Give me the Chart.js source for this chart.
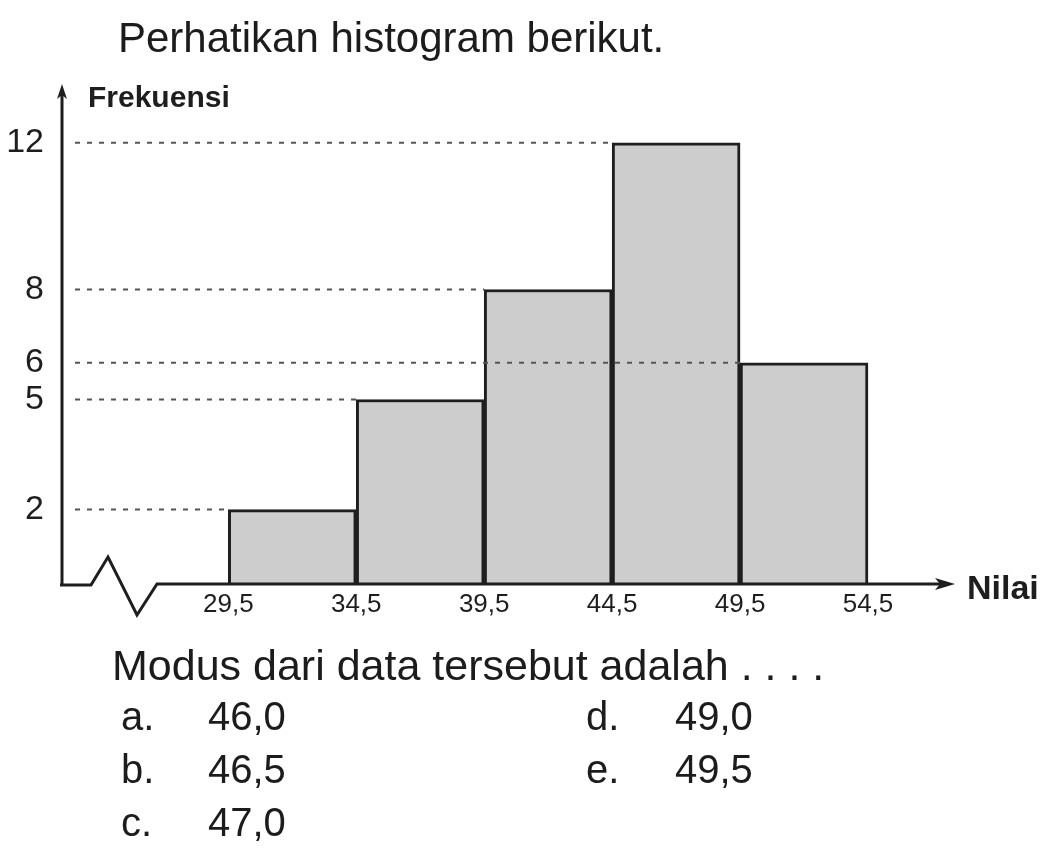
<!DOCTYPE html>
<html>
<head>
<meta charset="utf-8">
<script src="https://cdn.jsdelivr.net/npm/chart.js@4.4.1/dist/chart.umd.min.js"></script>
<style>
  html, body { margin: 0; padding: 0; background: #fff; }
  #wrap { position: relative; width: 1064px; height: 865px; overflow: hidden; }
  canvas { position: absolute; left: 0; top: 0; }
  .t { position: absolute; font-family: "Liberation Sans", Arial, sans-serif; font-size: 40px; line-height: 40px; color: #1c1c1c; white-space: nowrap; }
</style>
</head>
<body>
<div id="wrap">
  <canvas id="c" width="1064" height="865"></canvas>
  <div class="t" style="left:118px; top:17px; font-size:42px; line-height:42px;">Perhatikan histogram berikut.</div>
  <div class="t" style="left:112px; top:644px; font-size:43px; line-height:43px;">Modus dari data tersebut adalah . . . .</div>
  <div class="t" style="left:121px; top:696px;">a.</div>
  <div class="t" style="left:208px; top:696px;">46,0</div>
  <div class="t" style="left:121px; top:749px;">b.</div>
  <div class="t" style="left:208px; top:749px;">46,5</div>
  <div class="t" style="left:121px; top:802px;">c.</div>
  <div class="t" style="left:208px; top:802px;">47,0</div>
  <div class="t" style="left:586px; top:696px;">d.</div>
  <div class="t" style="left:675px; top:696px;">49,0</div>
  <div class="t" style="left:586px; top:749px;">e.</div>
  <div class="t" style="left:675px; top:749px;">49,5</div>
</div>
<script>
// ---- data ----
const classBoundaries = [29.5, 34.5, 39.5, 44.5, 49.5, 54.5];
const boundaryLabels = ['29,5', '34,5', '39,5', '44,5', '49,5', '54,5'];
const frequencies = [2, 5, 8, 12, 6];
const yTickValues = [2, 5, 6, 8, 12];
const yAxisTitle = 'Frekuensi';
const xAxisTitle = 'Nilai';

const barData = frequencies.map((f, i) => ({
  x: (classBoundaries[i] + classBoundaries[i + 1]) / 2,
  y: f
}));

const INK = '#1e1e1e';

const decor = {
  id: 'decor',
  afterDatasetsDraw(chart) {
    const ctx = chart.ctx;
    const xs = chart.scales.x, ys = chart.scales.y;
    const area = chart.chartArea;
    const y0 = ys.getPixelForValue(0);
    const axisX = area.left;
    ctx.save();
    // dashed reference lines from axis to the left edge of each bar with that height
    ctx.strokeStyle = '#555';
    ctx.lineWidth = 2;
    ctx.setLineDash([5, 7]);
    yTickValues.forEach(v => {
      const idx = frequencies.indexOf(v);
      const endX = xs.getPixelForValue(classBoundaries[idx]);
      const py = ys.getPixelForValue(v);
      ctx.beginPath();
      ctx.moveTo(axisX + 13, py);
      ctx.lineTo(endX, py);
      ctx.stroke();
    });
    ctx.setLineDash([]);
    // y axis line + arrow
    ctx.strokeStyle = INK;
    ctx.fillStyle = INK;
    ctx.lineWidth = 3;
    ctx.beginPath();
    ctx.moveTo(axisX, y0 + 1);
    ctx.lineTo(axisX, area.top + 6);
    ctx.stroke();
    ctx.beginPath();
    ctx.moveTo(axisX, area.top);
    ctx.lineTo(axisX - 5, area.top + 15);
    ctx.lineTo(axisX, area.top + 11);
    ctx.lineTo(axisX + 5, area.top + 15);
    ctx.closePath();
    ctx.fill();
    // x axis with zigzag break + arrow
    ctx.lineWidth = 3;
    ctx.lineJoin = 'miter';
    ctx.beginPath();
    ctx.moveTo(axisX - 2, y0 + 2);
    ctx.lineTo(axisX + 29, y0 + 2);
    ctx.lineTo(axisX + 46, y0 - 26);
    ctx.lineTo(axisX + 75, y0 + 32);
    ctx.lineTo(axisX + 95, y0 + 1);
    ctx.lineTo(area.right - 12, y0 + 1);
    ctx.stroke();
    ctx.beginPath();
    ctx.moveTo(area.right, y0 + 1);
    ctx.lineTo(area.right - 20, y0 - 5);
    ctx.lineTo(area.right - 15, y0 + 1);
    ctx.lineTo(area.right - 20, y0 + 7);
    ctx.closePath();
    ctx.fill();
    // axis titles
    ctx.font = 'bold 30px "Liberation Sans", Arial, sans-serif';
    ctx.textBaseline = 'alphabetic';
    ctx.textAlign = 'left';
    ctx.fillText(yAxisTitle, axisX + 26, area.top + 23);
    ctx.font = 'bold 34px "Liberation Sans", Arial, sans-serif';
    ctx.fillText(xAxisTitle, area.right + 12, y0 + 16);
    ctx.restore();
  }
};

new Chart(document.getElementById('c'), {
  type: 'bar',
  data: {
    datasets: [{
      data: barData,
      backgroundColor: '#cdcdcd',
      borderColor: INK,
      borderWidth: 3,
      borderSkipped: 'start',
      barPercentage: 1,
      categoryPercentage: 1
    }]
  },
  options: {
    responsive: false,
    animation: false,
    layout: { padding: { left: 0, top: 84, right: 109, bottom: 0 } },
    plugins: { legend: { display: false }, tooltip: { enabled: false } },
    scales: {
      x: {
        type: 'linear',
        offset: false,
        min: 23,
        max: 57.9,
        afterBuildTicks(s) { s.ticks = classBoundaries.map(v => ({ value: v })); },
        afterFit(s) { s.height = 865 - 583; },
        ticks: {
          autoSkip: false,
          maxRotation: 0,
          padding: 6,
          color: INK,
          font: { family: '"Liberation Sans", Arial, sans-serif', size: 26 },
          callback(v, i) { return boundaryLabels[i]; }
        },
        grid: { display: false, drawTicks: false, offset: false },
        border: { display: false }
      },
      y: {
        min: 0,
        max: 13.6,
        afterBuildTicks(s) { s.ticks = yTickValues.map(v => ({ value: v })); },
        afterFit(s) { s.width = 62; },
        ticks: {
          autoSkip: false,
          padding: 18,
          color: INK,
          font: { family: '"Liberation Sans", Arial, sans-serif', size: 34 },
          callback(v) { return String(v); }
        },
        grid: { display: false, drawTicks: false },
        border: { display: false }
      }
    }
  },
  plugins: [decor]
});
</script>
</body>
</html>
